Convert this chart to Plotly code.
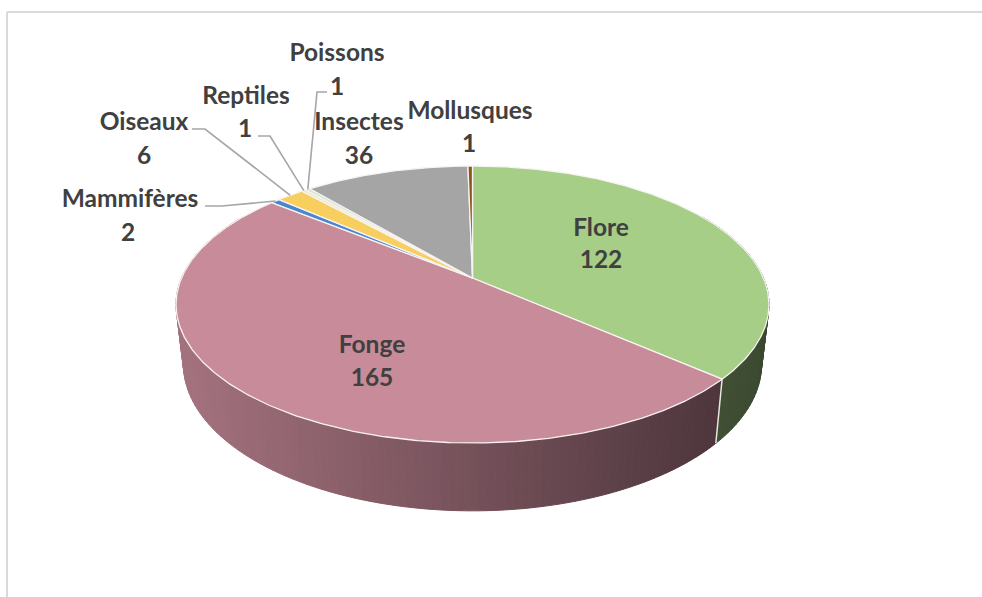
import numpy as np
import plotly.graph_objects as go

categories = ["Flore", "Fonge", "Mammifères", "Oiseaux", "Reptiles", "Poissons", "Insectes", "Mollusques"]
values = [122, 165, 2, 6, 1, 1, 36, 1]
colors = ["#A6CE87", "#C88B9A", "#4A86CF", "#F8CE5E", "#F3E9C8", "#D3E8D0", "#A5A5A5", "#8A5A1C"]

# label centres in page pixels: (name x, name y, value x, value y)
label_x = [601, 372, 130, 144, 246, 337, 359, 470]
label_y = [230, 347, 201, 124, 98, 55, 124, 113]
value_x = [601, 372, 128, 144, 245, 337, 359, 469]
value_y = [262, 380, 235, 158, 131, 89, 158, 146]

# leader line elbows, the last point is taken on the rim of the slice
leaders = {
    "Mammifères": [(205, 206), (222, 206)],
    "Oiseaux": [(192, 129), (205, 129)],
    "Reptiles": [(258, 136), (270, 136)],
    "Poissons": [(327, 92), (317, 92)],
}

# pie projection, circle seen in perspective
CX, CY = 472.5, 278
A, B, K = 291.0, 133.4, 0.1913
TEXT = "#404040"
total = sum(values)
edges = np.cumsum([0] + values) / total * 2 * np.pi


def top(theta):
    X, Y = np.sin(theta), -np.cos(theta)
    d = 1 - K * Y
    return A * X / d, B * Y / d


def top_xy(theta):
    u, v = top(theta)
    return CX + u, CY + v


def bottom_xy(theta):
    u, v = top(theta)
    return CX + 0.975 * u, CY + 1.06 * v + 58


def shade(color, x):
    f = 0.82 - 0.47 * (x - 176) / 593
    r, g, b = int(color[1:3], 16), int(color[3:5], 16), int(color[5:7], 16)
    return f"rgb({r * f:.0f},{g * f:.0f},{b * f:.0f})"


fig = go.Figure()

# side wall, narrow strips so the shading runs left to right
for i, col in enumerate(colors):
    start, end = edges[i], edges[i + 1]
    lo, hi = max(start, np.radians(60)), min(end, np.radians(300))
    if hi <= lo:
        continue
    steps = np.linspace(lo, hi, max(2, int((hi - lo) / np.radians(1.5)) + 2))
    for t0, t1 in zip(steps[:-1], steps[1:]):
        x0, y0 = top_xy(t0)
        x1, y1 = top_xy(t1)
        x2, y2 = bottom_xy(t1)
        x3, y3 = bottom_xy(t0)
        c = shade(col, (x0 + x1) / 2)
        fig.add_trace(go.Scatter(
            x=[x0, x1, x2, x3, x0], y=[y0, y1, y2, y3, y0],
            mode="lines", fill="toself", fillcolor=c,
            line=dict(color=c, width=1), hoverinfo="skip",
        ))

# seam between Flore and Fonge on the wall
xa, ya = top_xy(edges[1])
xb, yb = bottom_xy(edges[1])
fig.add_trace(go.Scatter(
    x=[xa, xb], y=[ya, yb], mode="lines",
    line=dict(color="#E8E8E0", width=1.5), hoverinfo="skip",
))

# top face
for i, col in enumerate(colors):
    t = np.linspace(edges[i], edges[i + 1], max(3, int(values[i] * 2)))
    xs, ys = top_xy(t)
    fig.add_trace(go.Scatter(
        x=np.r_[CX, xs, CX], y=np.r_[CY, ys, CY],
        mode="lines", fill="toself", fillcolor=col,
        line=dict(color="#F7F3F1", width=1.3), hoverinfo="skip",
    ))

# leader lines
for i, name in enumerate(categories):
    if name in leaders:
        px, py = zip(*leaders[name])
        ex, ey = top_xy((edges[i] + edges[i + 1]) / 2)
        fig.add_trace(go.Scatter(
            x=list(px) + [ex], y=list(py) + [ey], mode="lines",
            line=dict(color="#A6A6A6", width=1.6), hoverinfo="skip",
        ))

# labels
fig.add_trace(go.Scatter(
    x=label_x + value_x, y=label_y + value_y,
    text=categories + [str(v) for v in values],
    mode="text", textposition="middle center",
    textfont=dict(family="Lato", size=24.5, color=TEXT, weight="bold"),
    hoverinfo="skip",
))

fig.update_layout(
    width=982, height=597,
    margin=dict(l=0, r=0, t=0, b=0),
    paper_bgcolor="white", plot_bgcolor="white",
    showlegend=False,
    xaxis=dict(range=[0, 982], visible=False, fixedrange=True),
    yaxis=dict(range=[597, 0], visible=False, fixedrange=True),
    shapes=[
        dict(type="line", x0=7, x1=7, y0=12, y1=597, line=dict(color="#D9D9D9", width=2)),
        dict(type="line", x0=7, x1=982, y0=12, y1=12, line=dict(color="#D9D9D9", width=2)),
    ],
)

# the page's default body margin would push the chart 8px off
fig.write_html(
    "out.html",
    config={"displayModeBar": False},
    post_script="document.body.style.margin='0';document.body.style.overflow='hidden';",
)
